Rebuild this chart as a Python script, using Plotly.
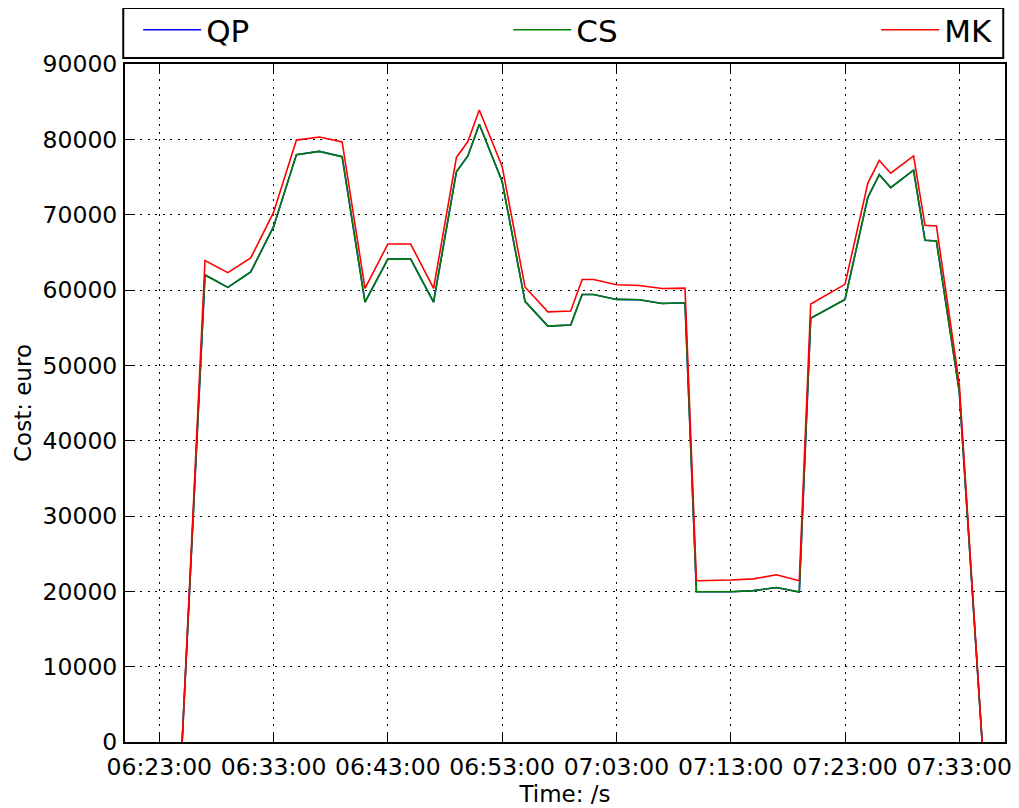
import plotly.graph_objects as go

# ---- data ----
day = "2000-01-01 "
times = ["06:25", "06:27", "06:29", "06:31", "06:33", "06:35", "06:37", "06:39",
         "06:41", "06:43", "06:45", "06:47", "06:49", "06:50", "06:51", "06:53",
         "06:55", "06:57", "06:59", "07:00", "07:01", "07:03", "07:05", "07:07",
         "07:09", "07:10", "07:13", "07:15", "07:17", "07:19", "07:20", "07:23",
         "07:25", "07:26", "07:27", "07:29", "07:30", "07:31", "07:33", "07:35"]

qp = [0, 62000, 60350, 62400, 68400, 77970, 78400, 77700, 58400, 64100,
      64100, 58400, 75700, 77800, 82000, 74400, 58500, 55200, 55350, 59400,
      59400, 58750, 58700, 58200, 58300, 19950, 19950, 20100, 20500, 19900,
      56250, 58750, 72300, 75300, 73600, 75900, 66600, 66500, 46500, 0]

cs = [0, 62000, 60350, 62400, 68400, 77970, 78400, 77700, 58400, 64100,
      64100, 58400, 75700, 77800, 82000, 74400, 58500, 55200, 55350, 59400,
      59400, 58750, 58700, 58200, 58300, 19950, 19950, 20100, 20500, 19900,
      56250, 58750, 72300, 75300, 73600, 75900, 66600, 66500, 46500, 0]

mk = [0, 63900, 62300, 64250, 70300, 79900, 80300, 79650, 60200, 66100,
      66100, 60200, 77600, 79700, 83900, 76400, 60400, 57100, 57200, 61400,
      61400, 60700, 60600, 60200, 60250, 21400, 21500, 21650, 22200, 21400,
      58150, 60750, 74200, 77200, 75500, 77800, 68600, 68500, 47500, 0]

x_tick_labels = ["06:23:00", "06:33:00", "06:43:00", "06:53:00",
                 "07:03:00", "07:13:00", "07:23:00", "07:33:00"]
x_range = ["06:20:00", "07:37:00"]
y_ticks = [0, 10000, 20000, 30000, 40000, 50000, 60000, 70000, 80000, 90000]

series = [("QP", qp, "#0000ff", "legend"),
          ("CS", cs, "#008000", "legend2"),
          ("MK", mk, "#ff0000", "legend3")]

x = [day + t + ":00" for t in times]

FONT = "DejaVu Sans"

fig = go.Figure()
for name, vals, color, leg in series:
    fig.add_trace(go.Scatter(x=x, y=vals, mode="lines", name=name,
                             line=dict(color=color, width=1.6), legend=leg))

axis_common = dict(
    showline=True, linecolor="black", linewidth=2, mirror="ticks",
    ticks="inside", ticklen=8, tickwidth=1.2, tickcolor="black",
    showgrid=True, gridcolor="black", gridwidth=1, griddash="2px,5.5px",
    zeroline=False, automargin=False,
    tickfont=dict(family=FONT, size=23.5, color="black"),
)

fig.update_xaxes(
    type="date",
    range=[day + x_range[0], day + x_range[1]],
    tickvals=[day + t for t in x_tick_labels],
    ticktext=x_tick_labels,
    ticklabelstandoff=3,
    title=dict(text="Time: /s", font=dict(family=FONT, size=23, color="black"), standoff=1),
    **axis_common,
)
fig.update_yaxes(
    range=[0, 90000],
    tickvals=y_ticks,
    ticktext=[str(v) for v in y_ticks],
    ticklabelstandoff=1,
    title=dict(text="Cost: euro", font=dict(family=FONT, size=23, color="black"), standoff=4),
    **axis_common,
)

leg_common = dict(y=1.050, yanchor="middle", xanchor="left", orientation="h",
                  bgcolor="rgba(0,0,0,0)", borderwidth=0, itemwidth=58,
                  font=dict(family=FONT, size=31, color="black"))

# the page body adds an 8px offset, so the figure is 8px smaller on each side
fig.update_layout(
    width=1011, height=800,
    margin=dict(l=117, r=14, t=56, b=66, autoexpand=False),
    paper_bgcolor="white", plot_bgcolor="white",
    showlegend=True,
    legend=dict(x=0.015, **leg_common),
    legend2=dict(x=0.4355, **leg_common),
    legend3=dict(x=0.8536, **leg_common),
    shapes=[dict(type="rect", xref="paper", yref="paper",
                 x0=-0.002, x1=0.998, y0=1.0088, y1=1.0826,
                 line=dict(color="black", width=2), fillcolor="rgba(0,0,0,0)")],
)

fig.write_html("out.html")
